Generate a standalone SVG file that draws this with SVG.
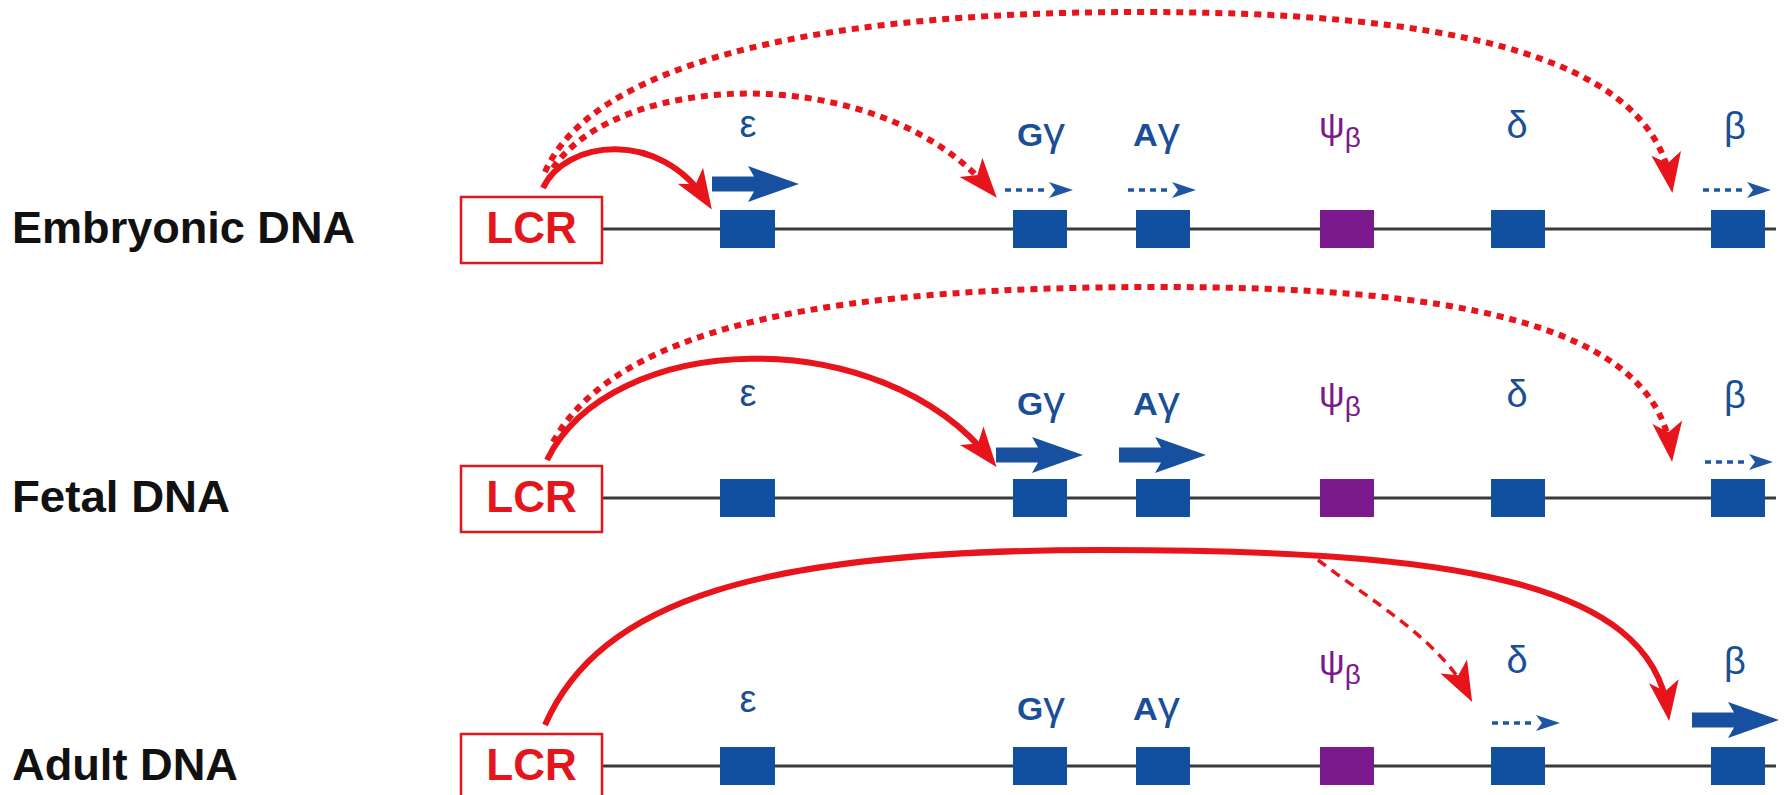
<svg xmlns="http://www.w3.org/2000/svg" xmlns:xlink="http://www.w3.org/1999/xlink" width="1785" height="795" viewBox="0 0 1785 795">
<style>
.bg{fill:#ffffff}
.rowlab{font-family:"Liberation Sans",Arial,sans-serif;font-weight:bold;font-size:44px;fill:#111111}
.lcrbox{fill:#ffffff;stroke:#e3161c;stroke-width:2.5}
.lcrtxt{font-family:"Liberation Sans",Arial,sans-serif;font-weight:bold;font-size:44px;fill:#e3161c;text-anchor:middle}
.dna{stroke:#3a3a3a;stroke-width:3;fill:none}
.gb{fill:#11509e}
.gp{fill:#7a1a8c}
.gl{font-family:"Liberation Sans",Arial,sans-serif;fill:#1a4f96}
.gsup{font-size:31px;font-weight:bold}
.ggr{font-size:40px}
.geps{font-size:38px;text-anchor:middle}
.gpl{font-family:"Liberation Sans",Arial,sans-serif;fill:#7a1a8c}
.red{fill:none;stroke:#e8141b;stroke-width:6;marker-end:url(#rh)}
.dot{stroke-dasharray:7 6;stroke-width:6}
.dash{stroke-dasharray:10 7;stroke-width:3.5}
</style>
<defs>
<marker id="rh" markerUnits="userSpaceOnUse" markerWidth="50" markerHeight="36" viewBox="-42 -18 50 36" refX="-9" refY="0" orient="auto">
<path d="M0,0 L-40,-15 L-30,0 L-40,15 Z" fill="#e8141b"/>
</marker>
<g id="dotarrow">
<path d="M0,0 H44" stroke="#1f55a3" stroke-width="3.5" stroke-dasharray="6 5" fill="none"/>
<path d="M44,-8 L68,0 L44,8 L50,0 Z" fill="#1f55a3"/>
</g>
<path id="thickarrow" d="M0,-7.5 H42 L36,-18 L87,0 L36,18 L42,7.5 H0 Z" fill="#17509e"/>
</defs>
<rect class="bg" x="0" y="0" width="1785" height="795"/>

<!-- Row 1: Embryonic -->
<g id="row1">
<g id="r1-label"><text class="rowlab" x="12" y="243" textLength="343" lengthAdjust="spacingAndGlyphs">Embryonic DNA</text></g>
<g id="r1-dna"><line class="dna" x1="602" y1="229" x2="1776" y2="229"/></g>
<g id="r1-lcr"><rect class="lcrbox" x="461" y="197" width="141" height="66"/><text class="lcrtxt" x="531.5" y="243">LCR</text></g>
<g id="r1-epsilon"><rect class="gb" x="720" y="210" width="55" height="38"/><text class="gl geps" x="748" y="137">ε</text><use xlink:href="#thickarrow" x="712" y="184"/></g>
<g id="r1-Ggamma"><rect class="gb" x="1013" y="210" width="54" height="38"/><text class="gl" x="1017" y="146" textLength="48" lengthAdjust="spacingAndGlyphs"><tspan class="gsup">G</tspan><tspan class="ggr">γ</tspan></text><use xlink:href="#dotarrow" x="1005" y="190"/></g>
<g id="r1-Agamma"><rect class="gb" x="1136" y="210" width="54" height="38"/><text class="gl" x="1133" y="146" textLength="47" lengthAdjust="spacingAndGlyphs"><tspan class="gsup">A</tspan><tspan class="ggr">γ</tspan></text><use xlink:href="#dotarrow" x="1128" y="190"/></g>
<g id="r1-psibeta"><rect class="gp" x="1320" y="210" width="54" height="38"/><text class="gpl" x="1319" y="138"><tspan font-size="36">ψ</tspan><tspan font-size="28" dy="9">β</tspan></text></g>
<g id="r1-delta"><rect class="gb" x="1491" y="210" width="54" height="38"/><text class="gl geps" x="1517" y="138">δ</text></g>
<g id="r1-beta"><rect class="gb" x="1711" y="210" width="54" height="38"/><text class="gl geps" x="1735" y="139">β</text><use xlink:href="#dotarrow" x="1703" y="190"/></g>
</g>

<!-- Row 2: Fetal -->
<g id="row2">
<g id="r2-label"><text class="rowlab" x="12" y="512" textLength="218" lengthAdjust="spacingAndGlyphs">Fetal DNA</text></g>
<g id="r2-dna"><line class="dna" x1="602" y1="498" x2="1776" y2="498"/></g>
<g id="r2-lcr"><rect class="lcrbox" x="461" y="466" width="141" height="66"/><text class="lcrtxt" x="531.5" y="512">LCR</text></g>
<g id="r2-epsilon"><rect class="gb" x="720" y="479" width="55" height="38"/><text class="gl geps" x="748" y="406">ε</text></g>
<g id="r2-Ggamma"><rect class="gb" x="1013" y="479" width="54" height="38"/><text class="gl" x="1017" y="415" textLength="48" lengthAdjust="spacingAndGlyphs"><tspan class="gsup">G</tspan><tspan class="ggr">γ</tspan></text><use xlink:href="#thickarrow" x="996" y="455"/></g>
<g id="r2-Agamma"><rect class="gb" x="1136" y="479" width="54" height="38"/><text class="gl" x="1133" y="415" textLength="47" lengthAdjust="spacingAndGlyphs"><tspan class="gsup">A</tspan><tspan class="ggr">γ</tspan></text><use xlink:href="#thickarrow" x="1119" y="455"/></g>
<g id="r2-psibeta"><rect class="gp" x="1320" y="479" width="54" height="38"/><text class="gpl" x="1319" y="407"><tspan font-size="36">ψ</tspan><tspan font-size="28" dy="9">β</tspan></text></g>
<g id="r2-delta"><rect class="gb" x="1491" y="479" width="54" height="38"/><text class="gl geps" x="1517" y="407">δ</text></g>
<g id="r2-beta"><rect class="gb" x="1711" y="479" width="54" height="38"/><text class="gl geps" x="1735" y="408">β</text><use xlink:href="#dotarrow" x="1705" y="462"/></g>
</g>

<!-- Row 3: Adult -->
<g id="row3">
<g id="r3-label"><text class="rowlab" x="12" y="780" textLength="226" lengthAdjust="spacingAndGlyphs">Adult DNA</text></g>
<g id="r3-dna"><line class="dna" x1="602" y1="766" x2="1776" y2="766"/></g>
<g id="r3-lcr"><rect class="lcrbox" x="461" y="734" width="141" height="66"/><text class="lcrtxt" x="531.5" y="780">LCR</text></g>
<g id="r3-epsilon"><rect class="gb" x="720" y="747" width="55" height="38"/><text class="gl geps" x="748" y="712">ε</text></g>
<g id="r3-Ggamma"><rect class="gb" x="1013" y="747" width="54" height="38"/><text class="gl" x="1017" y="720" textLength="48" lengthAdjust="spacingAndGlyphs"><tspan class="gsup">G</tspan><tspan class="ggr">γ</tspan></text></g>
<g id="r3-Agamma"><rect class="gb" x="1136" y="747" width="54" height="38"/><text class="gl" x="1133" y="720" textLength="47" lengthAdjust="spacingAndGlyphs"><tspan class="gsup">A</tspan><tspan class="ggr">γ</tspan></text></g>
<g id="r3-psibeta"><rect class="gp" x="1320" y="747" width="54" height="38"/><text class="gpl" x="1319" y="675"><tspan font-size="36">ψ</tspan><tspan font-size="28" dy="9">β</tspan></text></g>
<g id="r3-delta"><rect class="gb" x="1491" y="747" width="54" height="38"/><text class="gl geps" x="1517" y="673">δ</text><use xlink:href="#dotarrow" x="1492" y="723"/></g>
<g id="r3-beta"><rect class="gb" x="1711" y="747" width="54" height="38"/><text class="gl geps" x="1735" y="674">β</text><use xlink:href="#thickarrow" x="1692" y="720"/></g>
</g>

<!-- Connectors -->
<g id="connectors">
<path class="red" d="M543,188 C565,140 660,128 707,202"/>
<path class="red dot" d="M553,168 C620,70 880,60 991,191"/>
<path class="red dot" d="M545,172 C590,70 790,12 1140,12 C1430,12 1650,50 1671,184"/>
<path class="red" d="M547,460 C610,330 880,320 991,460"/>
<path class="red dot" d="M553,442 C620,320 850,287 1160,287 C1440,287 1655,320 1671,453"/>
<path class="red" d="M545,725 C600,600 760,550 1100,550 C1450,550 1650,580 1668,712"/>
<path class="red dash" d="M1318,560 C1370,600 1440,640 1468,694"/>
</g>
</svg>
